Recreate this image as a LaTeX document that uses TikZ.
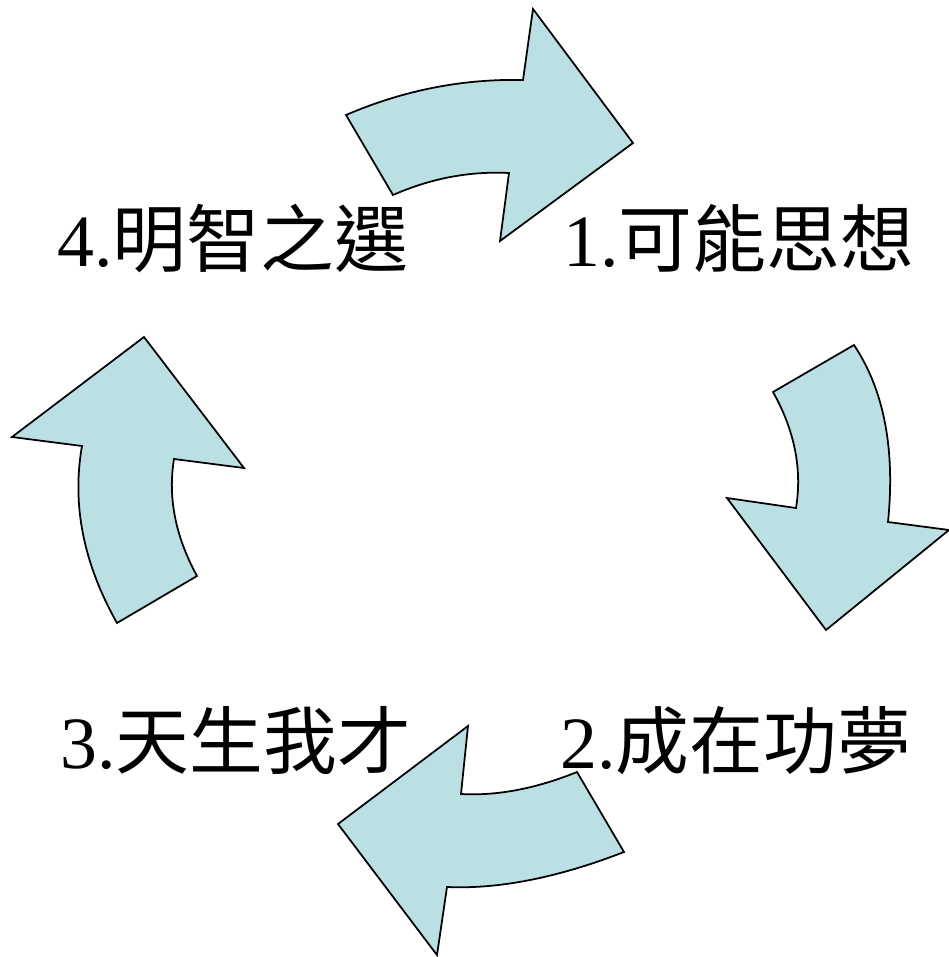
\documentclass[tikz,border=0pt]{standalone}
\usepackage{fontspec}
\setmainfont{Liberation Serif}
\newfontfamily\cjk{Noto Sans CJK TC}
\definecolor{arrowfill}{RGB}{187,224,227}
\begin{document}
\begin{tikzpicture}[x=0.02cm,y=-0.02cm,
  bigarrow/.style={fill=arrowfill,draw=black,line width=1pt,line join=miter},
  lbl/.style={anchor=base west,inner sep=0pt,font=\fontsize{42}{50}\selectfont}]
\useasboundingbox (0,0) rectangle (949,957);
% top arrow
\draw[bigarrow] (346,115) .. controls (403.3,90.3) and (462.3,78.7) .. (523,80) -- (533,9) -- (633,143) -- (500,241) -- (509,173) .. controls (469.7,171) and (431,178.3) .. (393,195) -- cycle;
% right arrow
\draw[bigarrow] (854,345) -- (773,392) .. controls (794.7,430.7) and (802.3,469.3) .. (796,508) -- (727,498) -- (826,630) -- (949,530) -- (888,522) .. controls (895.3,449) and (884,390) .. cycle;
% bottom arrow
\draw[bigarrow] (577,772) -- (624,852) .. controls (557.7,877.7) and (498.7,889.3) .. (447,887) -- (437,955) -- (338,824) -- (468,726) -- (461,794) .. controls (497,796) and (535.7,788.7) .. cycle;
% left arrow
\draw[bigarrow] (144,337) -- (244,468) -- (174,459) .. controls (167.7,497.3) and (175.3,536.3) .. (197,576) -- (117,623) .. controls (83.3,563.3) and (71.7,504.3) .. (82,446) -- (12,437) -- cycle;
% labels
\node[lbl] (n1) at (563,266) {1.{\cjk 可能思想}};
\node[lbl] (n2) at (560,768) {2.{\cjk 成在功夢}};
\node[lbl] (n3) at (60,768) {3.{\cjk 天生我才}};
\node[lbl] (n4) at (57,266) {4.{\cjk 明智之選}};
\end{tikzpicture}
\end{document}
